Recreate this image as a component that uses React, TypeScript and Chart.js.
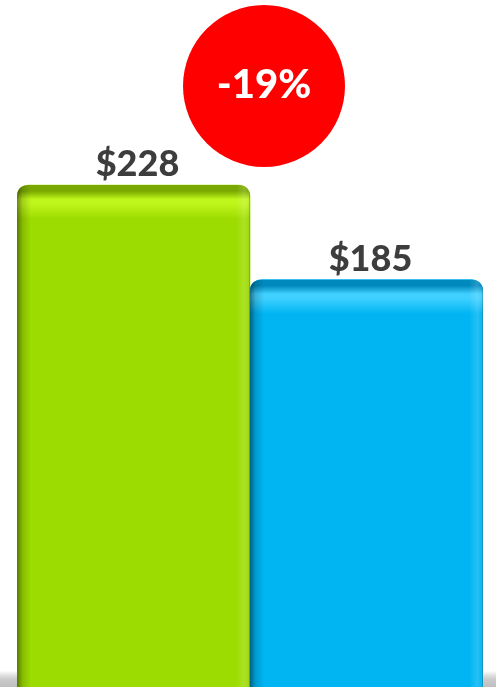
import React, { useEffect, useRef } from "react";
import { Chart, registerables } from "chart.js";

Chart.register(...registerables);

const categories = ["Before", "After"];
const values = [228, 185];
const valueLabels = ["$228", "$185"];
const changeLabel = "-19%";
const barColors = ["#9ddc00", "#00b5f2"];
const topShade = ["#7aa800", "#0089bd"];
const highlight = ["#bff51a", "#3fd0ff"];

function roundedTopPath(ctx: CanvasRenderingContext2D, l: number, t: number, r: number, b: number, rad: number) {
  ctx.beginPath();
  ctx.moveTo(l, b);
  ctx.lineTo(l, t + rad);
  ctx.quadraticCurveTo(l, t, l + rad, t);
  ctx.lineTo(r - rad, t);
  ctx.quadraticCurveTo(r, t, r, t + rad);
  ctx.lineTo(r, b);
  ctx.closePath();
}

const decoPlugin = {
  id: "deco",
  beforeDatasetsDraw(chart: any) {
    const ctx = chart.ctx as CanvasRenderingContext2D;
    const { width, height } = chart;
    const g = ctx.createLinearGradient(0, height - 16, 0, height);
    g.addColorStop(0, "rgba(150,150,150,0)");
    g.addColorStop(0.5, "rgba(170,170,170,0.6)");
    g.addColorStop(1, "rgba(185,185,185,0.9)");
    ctx.save();
    ctx.fillStyle = g;
    ctx.fillRect(0, height - 16, width, 16);
    ctx.restore();
  },
  afterDatasetsDraw(chart: any) {
    const ctx = chart.ctx as CanvasRenderingContext2D;
    const meta = chart.getDatasetMeta(0);
    meta.data.forEach((bar: any, i: number) => {
      const l = bar.x - bar.width / 2;
      const r = bar.x + bar.width / 2;
      const t = bar.y;
      const b = bar.base;
      ctx.save();
      roundedTopPath(ctx, l, t, r, b, 12);
      ctx.clip();
      const vg = ctx.createLinearGradient(0, t, 0, t + 34);
      vg.addColorStop(0, topShade[i]);
      vg.addColorStop(0.18, topShade[i]);
      vg.addColorStop(0.42, highlight[i]);
      vg.addColorStop(0.55, highlight[i]);
      vg.addColorStop(1, barColors[i]);
      ctx.fillStyle = vg;
      ctx.fillRect(l, t, r - l, 34);
      const lg = ctx.createLinearGradient(l, 0, l + 14, 0);
      lg.addColorStop(0, "rgba(0,0,0,0.45)");
      lg.addColorStop(0.4, "rgba(0,0,0,0.15)");
      lg.addColorStop(1, "rgba(0,0,0,0)");
      ctx.fillStyle = lg;
      ctx.fillRect(l, t, 14, b - t);
      const rg = ctx.createLinearGradient(r - 14, 0, r, 0);
      rg.addColorStop(0, "rgba(255,255,255,0)");
      rg.addColorStop(0.6, "rgba(255,255,255,0.15)");
      rg.addColorStop(0.85, "rgba(255,255,255,0.05)");
      rg.addColorStop(1, "rgba(0,0,0,0.35)");
      ctx.fillStyle = rg;
      ctx.fillRect(r - 14, t, 14, b - t);
      ctx.restore();

      ctx.save();
      ctx.fillStyle = "#3d3d3d";
      ctx.font = "900 36px Lato, 'Open Sans', sans-serif";
      ctx.textAlign = "center";
      ctx.textBaseline = "alphabetic";
      ctx.fillText(valueLabels[i], bar.x + 4, t - 9);
      ctx.restore();
    });

    ctx.save();
    ctx.fillStyle = "#ff0000";
    ctx.beginPath();
    ctx.arc(264, 86, 81, 0, Math.PI * 2);
    ctx.fill();
    ctx.fillStyle = "#ffffff";
    ctx.font = "900 40px Lato, 'Open Sans', sans-serif";
    ctx.textAlign = "center";
    ctx.textBaseline = "middle";
    ctx.fillText(changeLabel, 264, 85);
    ctx.restore();
  },
};

export default function App() {
  const ref = useRef<HTMLCanvasElement | null>(null);
  useEffect(() => {
    document.body.style.margin = "0";
    if (!ref.current) return;
    const chart = new Chart(ref.current, {
      type: "bar",
      data: {
        labels: categories,
        datasets: [
          {
            data: values,
            backgroundColor: barColors,
            borderWidth: 0,
            borderRadius: { topLeft: 12, topRight: 12, bottomLeft: 0, bottomRight: 0 },
            borderSkipped: "bottom",
            barPercentage: 1,
            categoryPercentage: 1,
          },
        ],
      },
      options: {
        animation: false,
        responsive: false,
        maintainAspectRatio: false,
        layout: { padding: { left: 17, right: 13, top: 0, bottom: 0 } },
        plugins: { legend: { display: false }, tooltip: { enabled: false } },
        scales: {
          x: { display: false },
          y: { display: false, min: 0, max: 312 },
        },
      },
      plugins: [decoPlugin],
    });
    return () => chart.destroy();
  }, []);
  return (
    <div style={{ position: "absolute", left: 0, top: 0, width: 496, height: 687 }}>
      <canvas ref={ref} width={496} height={687} style={{ display: "block" }} />
    </div>
  );
}
